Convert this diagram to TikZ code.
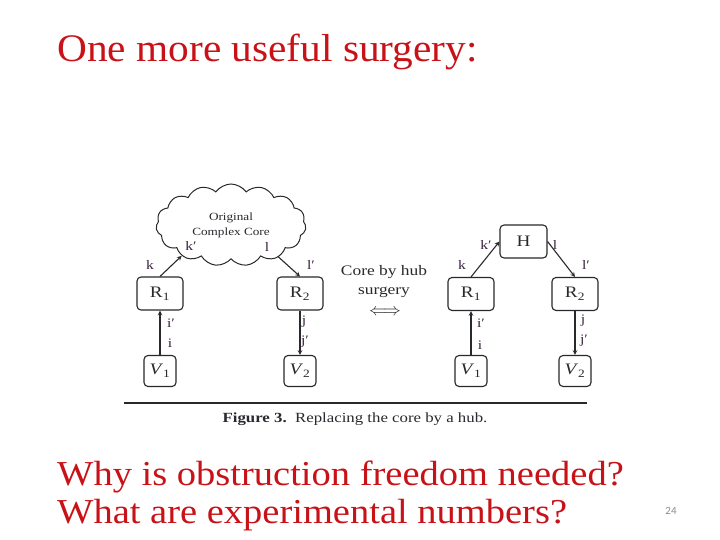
\documentclass[tikz,border=0pt]{standalone}
\usepackage{fontspec}
\setmainfont{Liberation Serif}
\newfontfamily\slidefont[FakeStretch=1.06]{Liberation Serif}
\newfontfamily\askfont[FakeStretch=1.1]{Liberation Serif}
\newfontfamily\figfont[FakeStretch=1.2]{Liberation Serif}
\newfontfamily\numfont{Carlito}
\usepackage{tikz}
\usetikzlibrary{arrows,positioning,shapes.symbols}
\definecolor{slidered}{RGB}{200,18,24}
\definecolor{figink}{RGB}{40,40,45}
\definecolor{labink}{RGB}{60,35,65}
\tikzset{
  box/.style={draw=figink, line width=1.1pt, rounded corners=4pt, inner sep=0pt,
    minimum width=46, minimum height=33, text=figink,
    font=\figfont\fontsize{16}{16}\selectfont},
  vbox/.style={box, minimum width=32, minimum height=31},
  lab/.style={text=labink, inner sep=0pt, font=\figfont\fontsize{13}{13}\selectfont},
  con/.style={-stealth, draw=figink, line width=1.1pt},
  slide/.style={anchor=base west, inner sep=0pt, text=slidered},
}

\begin{document}
\begin{tikzpicture}[x=1pt,y=-1pt]
        \useasboundingbox (0,0) rectangle (720,540);

        % Slide text
        \node[slide, font=\slidefont\fontsize{39}{39}\selectfont] (title) at (57,62) {One more useful surgery:};
        \node[slide, font=\askfont\fontsize{35}{35}\selectfont] (q1) at (57,485) {Why is obstruction freedom needed?};
        \node[slide, font=\askfont\fontsize{35}{35}\selectfont] (q2) at (57,523) {What are experimental numbers?};
        \node[text=black!45, font=\numfont\fontsize{11}{11}\selectfont] (pagenum) at (671,511) {24};

        % Left half: the original core
        \node[cloud, cloud puffs=15, cloud puff arc=110, cloud ignores aspect, draw=figink, line width=1pt,
              minimum width=150, minimum height=82, inner sep=0pt, align=center, text=figink,
              font=\figfont\fontsize{11}{15}\selectfont] (core) at (231,225) {Original\\Complex Core};
        \node[box] (R1L) at (160,293.5) {R\textsubscript{1}};
        \node[box] (R2L) at (300,293.5) {R\textsubscript{2}};
        \node[vbox] (V1L) at (160,371) {\textit{V}\textsubscript{1}};
        \node[vbox] (V2L) at (300,371) {\textit{V}\textsubscript{2}};

        \draw[con] (R1L.north) -- (core.212);
        \draw[con] (core.326) -- (R2L.north);
        \draw[con] (V1L.north) -- (R1L.south);
        \draw[con] (R2L.south) -- (V2L.north);

        \node[lab] (kL) at (150,265) {k};
        \node[lab] (kpL) at (191,246) {k′};
        \node[lab] (lL) at (267,247) {l};
        \node[lab] (lpL) at (311,265) {l′};
        \node[lab] (ipL) at (171,323) {i′};
        \node[lab] (iL) at (170,343) {i};
        \node[lab] (jL) at (304,322) {j};
        \node[lab] (jpL) at (305,342) {j′};

        % Middle: the surgery
        \node[align=center, text=figink, inner sep=0pt, font=\figfont\fontsize{14.5}{19}\selectfont] (surg) at (384,282) {Core by hub\\surgery};
        \node[text=figink, inner sep=0pt, font=\fontsize{16}{16}\selectfont] (equiv) at (385,312) {$\Longleftrightarrow$};

        % Right half: the hub
        \node[box, minimum width=47] (H) at (523.5,241.5) {H};
        \node[box] (R1R) at (471,294) {R\textsubscript{1}};
        \node[box] (R2R) at (575,294) {R\textsubscript{2}};
        \node[vbox] (V1R) at (471,371) {\textit{V}\textsubscript{1}};
        \node[vbox] (V2R) at (575,371) {\textit{V}\textsubscript{2}};

        \draw[con] (R1R.north) -- (H.west);
        \draw[con] (H.east) -- (R2R.north);
        \draw[con] (V1R.north) -- (R1R.south);
        \draw[con] (R2R.south) -- (V2R.north);

        \node[lab] (kR) at (462,265) {k};
        \node[lab] (kpR) at (486,245) {k′};
        \node[lab] (lR) at (555,245) {l};
        \node[lab] (lpR) at (586,265) {l′};
        \node[lab] (ipR) at (481,323) {i′};
        \node[lab] (iR) at (480,345) {i};
        \node[lab] (jR) at (583,321) {j};
        \node[lab] (jpR) at (584,341) {j′};

        % Rule and caption
        \draw[figink, line width=1.3pt] (124,403) -- (587,403);
        \node[text=figink, inner sep=0pt, font=\figfont\fontsize{14}{14}\selectfont] (cap) at (355,419)
              {\textbf{Figure 3.}\ \ Replacing the core by a hub.};
\end{tikzpicture}
\end{document}
